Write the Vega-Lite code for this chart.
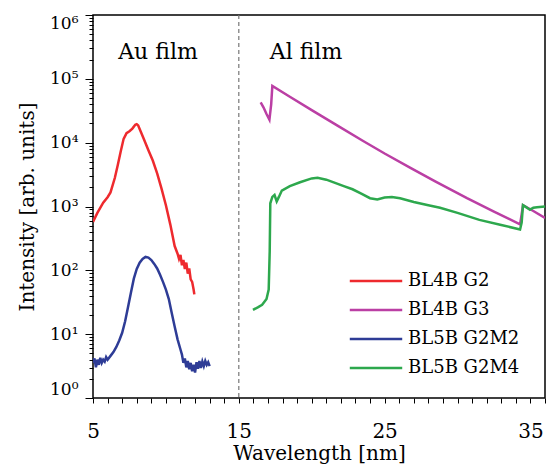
{
  "$schema": "https://vega.github.io/schema/vega-lite/v6.json",
  "width": 452,
  "height": 383,
  "autosize": {"type": "none"},
  "padding": {"left": 93, "top": 15, "right": 3, "bottom": 72},
  "background": "white",
  "config": {
    "font": "DejaVu Serif",
    "view": {"stroke": "black", "strokeWidth": 1.5},
    "axis": {"grid": false, "domain": false, "tickColor": "black", "labelColor": "black", "titleColor": "black", "titleFontWeight": "normal"}
  },
  "resolve": {"axis": {"y": "independent"}},
  "datasets": {
    "spectra": [
      {"s": "BL4B G2", "wl": 5.0, "i": 575},
      {"s": "BL4B G2", "wl": 5.3, "i": 794},
      {"s": "BL4B G2", "wl": 5.7, "i": 1148},
      {"s": "BL4B G2", "wl": 6.0, "i": 1400},
      {"s": "BL4B G2", "wl": 6.2, "i": 1660},
      {"s": "BL4B G2", "wl": 6.5, "i": 2818},
      {"s": "BL4B G2", "wl": 6.7, "i": 4467},
      {"s": "BL4B G2", "wl": 6.9, "i": 7244},
      {"s": "BL4B G2", "wl": 7.1, "i": 11482},
      {"s": "BL4B G2", "wl": 7.3, "i": 14125},
      {"s": "BL4B G2", "wl": 7.5, "i": 15136},
      {"s": "BL4B G2", "wl": 7.7, "i": 16596},
      {"s": "BL4B G2", "wl": 7.9, "i": 19055},
      {"s": "BL4B G2", "wl": 8.0, "i": 19498},
      {"s": "BL4B G2", "wl": 8.1, "i": 18621},
      {"s": "BL4B G2", "wl": 8.3, "i": 14454},
      {"s": "BL4B G2", "wl": 8.5, "i": 11220},
      {"s": "BL4B G2", "wl": 8.8, "i": 7586},
      {"s": "BL4B G2", "wl": 9.1, "i": 5248},
      {"s": "BL4B G2", "wl": 9.4, "i": 3311},
      {"s": "BL4B G2", "wl": 9.7, "i": 1905},
      {"s": "BL4B G2", "wl": 10.0, "i": 1047},
      {"s": "BL4B G2", "wl": 10.3, "i": 525},
      {"s": "BL4B G2", "wl": 10.6, "i": 240},
      {"s": "BL4B G2", "wl": 10.8, "i": 182},
      {"s": "BL4B G2", "wl": 10.9, "i": 151},
      {"s": "BL4B G2", "wl": 11.0, "i": 174},
      {"s": "BL4B G2", "wl": 11.1, "i": 120},
      {"s": "BL4B G2", "wl": 11.2, "i": 145},
      {"s": "BL4B G2", "wl": 11.3, "i": 105},
      {"s": "BL4B G2", "wl": 11.4, "i": 132},
      {"s": "BL4B G2", "wl": 11.5, "i": 89},
      {"s": "BL4B G2", "wl": 11.6, "i": 107},
      {"s": "BL4B G2", "wl": 11.7, "i": 72},
      {"s": "BL4B G2", "wl": 11.8, "i": 66},
      {"s": "BL4B G2", "wl": 11.9, "i": 50},
      {"s": "BL4B G2", "wl": 11.95, "i": 42},
      {"s": "BL4B G3", "wl": 16.5, "i": 42658},
      {"s": "BL4B G3", "wl": 16.7, "i": 35481},
      {"s": "BL4B G3", "wl": 16.9, "i": 28184},
      {"s": "BL4B G3", "wl": 17.1, "i": 22909},
      {"s": "BL4B G3", "wl": 17.22, "i": 39811},
      {"s": "BL4B G3", "wl": 17.3, "i": 77625},
      {"s": "BL4B G3", "wl": 18.5, "i": 52481},
      {"s": "BL4B G3", "wl": 20.0, "i": 32359},
      {"s": "BL4B G3", "wl": 21.74, "i": 18621},
      {"s": "BL4B G3", "wl": 23.5, "i": 10715},
      {"s": "BL4B G3", "wl": 25.0, "i": 6761},
      {"s": "BL4B G3", "wl": 26.74, "i": 4074},
      {"s": "BL4B G3", "wl": 28.5, "i": 2455},
      {"s": "BL4B G3", "wl": 30.65, "i": 1349},
      {"s": "BL4B G3", "wl": 32.5, "i": 832},
      {"s": "BL4B G3", "wl": 34.29, "i": 525},
      {"s": "BL4B G3", "wl": 34.4, "i": 759},
      {"s": "BL4B G3", "wl": 34.49, "i": 1047},
      {"s": "BL4B G3", "wl": 35.2, "i": 851},
      {"s": "BL4B G3", "wl": 36.0, "i": 661},
      {"s": "BL5B G2M2", "wl": 5.0, "i": 3.55},
      {"s": "BL5B G2M2", "wl": 5.1, "i": 4.17},
      {"s": "BL5B G2M2", "wl": 5.2, "i": 3.02},
      {"s": "BL5B G2M2", "wl": 5.3, "i": 3.98},
      {"s": "BL5B G2M2", "wl": 5.4, "i": 3.31},
      {"s": "BL5B G2M2", "wl": 5.5, "i": 4.27},
      {"s": "BL5B G2M2", "wl": 5.6, "i": 3.55},
      {"s": "BL5B G2M2", "wl": 5.7, "i": 3.98},
      {"s": "BL5B G2M2", "wl": 5.8, "i": 3.72},
      {"s": "BL5B G2M2", "wl": 5.9, "i": 4.37},
      {"s": "BL5B G2M2", "wl": 6.0, "i": 3.98},
      {"s": "BL5B G2M2", "wl": 6.2, "i": 4.57},
      {"s": "BL5B G2M2", "wl": 6.4, "i": 5.25},
      {"s": "BL5B G2M2", "wl": 6.6, "i": 6.31},
      {"s": "BL5B G2M2", "wl": 6.8, "i": 7.94},
      {"s": "BL5B G2M2", "wl": 7.0, "i": 10.5},
      {"s": "BL5B G2M2", "wl": 7.2, "i": 15.8},
      {"s": "BL5B G2M2", "wl": 7.4, "i": 26.3},
      {"s": "BL5B G2M2", "wl": 7.6, "i": 44.7},
      {"s": "BL5B G2M2", "wl": 7.8, "i": 74.1},
      {"s": "BL5B G2M2", "wl": 8.0, "i": 105},
      {"s": "BL5B G2M2", "wl": 8.2, "i": 132},
      {"s": "BL5B G2M2", "wl": 8.4, "i": 151},
      {"s": "BL5B G2M2", "wl": 8.6, "i": 162},
      {"s": "BL5B G2M2", "wl": 8.8, "i": 158},
      {"s": "BL5B G2M2", "wl": 9.0, "i": 145},
      {"s": "BL5B G2M2", "wl": 9.2, "i": 126},
      {"s": "BL5B G2M2", "wl": 9.4, "i": 107},
      {"s": "BL5B G2M2", "wl": 9.6, "i": 85},
      {"s": "BL5B G2M2", "wl": 9.8, "i": 66},
      {"s": "BL5B G2M2", "wl": 10.0, "i": 50},
      {"s": "BL5B G2M2", "wl": 10.2, "i": 35.5},
      {"s": "BL5B G2M2", "wl": 10.4, "i": 21.4},
      {"s": "BL5B G2M2", "wl": 10.6, "i": 13.2},
      {"s": "BL5B G2M2", "wl": 10.8, "i": 8.3},
      {"s": "BL5B G2M2", "wl": 11.0, "i": 5.75},
      {"s": "BL5B G2M2", "wl": 11.1, "i": 4.79},
      {"s": "BL5B G2M2", "wl": 11.2, "i": 3.55},
      {"s": "BL5B G2M2", "wl": 11.3, "i": 4.17},
      {"s": "BL5B G2M2", "wl": 11.4, "i": 3.02},
      {"s": "BL5B G2M2", "wl": 11.5, "i": 3.8},
      {"s": "BL5B G2M2", "wl": 11.6, "i": 2.82},
      {"s": "BL5B G2M2", "wl": 11.7, "i": 3.55},
      {"s": "BL5B G2M2", "wl": 11.8, "i": 2.63},
      {"s": "BL5B G2M2", "wl": 11.9, "i": 3.31},
      {"s": "BL5B G2M2", "wl": 12.0, "i": 2.51},
      {"s": "BL5B G2M2", "wl": 12.1, "i": 3.63},
      {"s": "BL5B G2M2", "wl": 12.2, "i": 2.88},
      {"s": "BL5B G2M2", "wl": 12.3, "i": 3.8},
      {"s": "BL5B G2M2", "wl": 12.4, "i": 2.95},
      {"s": "BL5B G2M2", "wl": 12.5, "i": 3.72},
      {"s": "BL5B G2M2", "wl": 12.6, "i": 3.16},
      {"s": "BL5B G2M2", "wl": 12.7, "i": 3.8},
      {"s": "BL5B G2M2", "wl": 12.8, "i": 3.31},
      {"s": "BL5B G2M2", "wl": 12.9, "i": 3.63},
      {"s": "BL5B G2M2", "wl": 13.0, "i": 3.16},
      {"s": "BL5B G2M4", "wl": 15.97, "i": 24.0},
      {"s": "BL5B G2M4", "wl": 16.3, "i": 26.3},
      {"s": "BL5B G2M4", "wl": 16.6, "i": 28.8},
      {"s": "BL5B G2M4", "wl": 16.9, "i": 35.5},
      {"s": "BL5B G2M4", "wl": 17.05, "i": 50.1},
      {"s": "BL5B G2M4", "wl": 17.12, "i": 200},
      {"s": "BL5B G2M4", "wl": 17.16, "i": 1122},
      {"s": "BL5B G2M4", "wl": 17.3, "i": 1413},
      {"s": "BL5B G2M4", "wl": 17.45, "i": 1514},
      {"s": "BL5B G2M4", "wl": 17.6, "i": 1202},
      {"s": "BL5B G2M4", "wl": 17.75, "i": 1413},
      {"s": "BL5B G2M4", "wl": 17.95, "i": 1778},
      {"s": "BL5B G2M4", "wl": 18.5, "i": 2089},
      {"s": "BL5B G2M4", "wl": 19.2, "i": 2399},
      {"s": "BL5B G2M4", "wl": 20.0, "i": 2754},
      {"s": "BL5B G2M4", "wl": 20.4, "i": 2818},
      {"s": "BL5B G2M4", "wl": 21.0, "i": 2630},
      {"s": "BL5B G2M4", "wl": 21.6, "i": 2344},
      {"s": "BL5B G2M4", "wl": 22.2, "i": 2089},
      {"s": "BL5B G2M4", "wl": 22.8, "i": 1862},
      {"s": "BL5B G2M4", "wl": 23.4, "i": 1585},
      {"s": "BL5B G2M4", "wl": 24.0, "i": 1349},
      {"s": "BL5B G2M4", "wl": 24.5, "i": 1288},
      {"s": "BL5B G2M4", "wl": 25.0, "i": 1380},
      {"s": "BL5B G2M4", "wl": 25.5, "i": 1413},
      {"s": "BL5B G2M4", "wl": 26.06, "i": 1349},
      {"s": "BL5B G2M4", "wl": 27.0, "i": 1175},
      {"s": "BL5B G2M4", "wl": 28.0, "i": 1047},
      {"s": "BL5B G2M4", "wl": 28.8, "i": 955},
      {"s": "BL5B G2M4", "wl": 30.0, "i": 794},
      {"s": "BL5B G2M4", "wl": 31.5, "i": 617},
      {"s": "BL5B G2M4", "wl": 33.0, "i": 513},
      {"s": "BL5B G2M4", "wl": 34.29, "i": 437},
      {"s": "BL5B G2M4", "wl": 34.4, "i": 562},
      {"s": "BL5B G2M4", "wl": 34.49, "i": 1047},
      {"s": "BL5B G2M4", "wl": 34.7, "i": 977},
      {"s": "BL5B G2M4", "wl": 34.97, "i": 891},
      {"s": "BL5B G2M4", "wl": 35.2, "i": 955},
      {"s": "BL5B G2M4", "wl": 35.45, "i": 977},
      {"s": "BL5B G2M4", "wl": 36.0, "i": 1000}
    ],
    "notes": [
      {"label": "Au film", "wl": 9.46, "i": 263000},
      {"label": "Al film", "wl": 19.61, "i": 263000}
    ]
  },
  "layer": [
    {
      "data": {"name": "spectra"},
      "mark": {"type": "line", "strokeWidth": 2.5, "clip": true},
      "encoding": {
        "x": {
          "field": "wl", "type": "quantitative",
          "scale": {"domain": [5, 36], "nice": false, "zero": false},
          "axis": {
            "title": "Wavelength [nm]",
            "tickCount": 31,
            "labelExpr": "(datum.value % 10 == 5) ? datum.label : ''",
            "labelFlush": false,
            "labelOverlap": false,
            "tickSize": 5,
            "labelPadding": 18,
            "labelFontSize": 20,
            "titleFontSize": 20,
            "titlePadding": 2
          }
        },
        "y": {
          "field": "i", "type": "quantitative",
          "scale": {"type": "log", "domain": [1, 1000000], "nice": false},
          "axis": {
            "orient": "left",
            "title": "Intensity [arb. units]",
            "values": [1, 10, 100, 1000, 10000, 100000, 1000000],
            "labelExpr": "datum.value == 1 ? '10⁰' : datum.value == 10 ? '10¹' : datum.value == 100 ? '10²' : datum.value == 1000 ? '10³' : datum.value == 10000 ? '10⁴' : datum.value == 100000 ? '10⁵' : '10⁶'",
            "labelFlush": true,
            "labelOverlap": false,
            "tickSize": 8,
            "labelPadding": 7,
            "labelFontSize": 17,
            "titleFontSize": 20,
            "titlePadding": 12
          }
        },
        "color": {
          "field": "s", "type": "nominal",
          "scale": {"domain": ["BL4B G2", "BL4B G3", "BL5B G2M2", "BL5B G2M4"], "range": ["#ee2a2e", "#bb3fa4", "#2e3c96", "#2da84d"]},
          "legend": {
            "title": null,
            "orient": "none",
            "legendX": 274,
            "legendY": 257,
            "symbolType": "M-5,0H5",
            "symbolSize": 110,
            "symbolStrokeWidth": 2.5,
            "labelOffset": 23,
            "labelFontSize": 18,
            "labelColor": "black",
            "rowPadding": 11,
            "padding": 0
          }
        }
      }
    },
    {
      "data": {"values": [{"wl": 15}]},
      "mark": {"type": "rule", "color": "#777777", "strokeDash": [4, 3], "strokeWidth": 1.2},
      "encoding": {"x": {"field": "wl", "type": "quantitative"}}
    },
    {
      "data": {"name": "notes"},
      "mark": {"type": "text", "fontSize": 22, "color": "black", "align": "center", "baseline": "middle"},
      "encoding": {
        "x": {"field": "wl", "type": "quantitative"},
        "y": {
          "field": "i", "type": "quantitative",
          "axis": {
            "orient": "left",
            "title": null,
            "labels": false,
            "values": [2,3,4,5,6,7,8,9,20,30,40,50,60,70,80,90,200,300,400,500,600,700,800,900,2000,3000,4000,5000,6000,7000,8000,9000,20000,30000,40000,50000,60000,70000,80000,90000,200000,300000,400000,500000,600000,700000,800000,900000],
            "tickSize": 4
          }
        },
        "text": {"field": "label"}
      }
    }
  ]
}
